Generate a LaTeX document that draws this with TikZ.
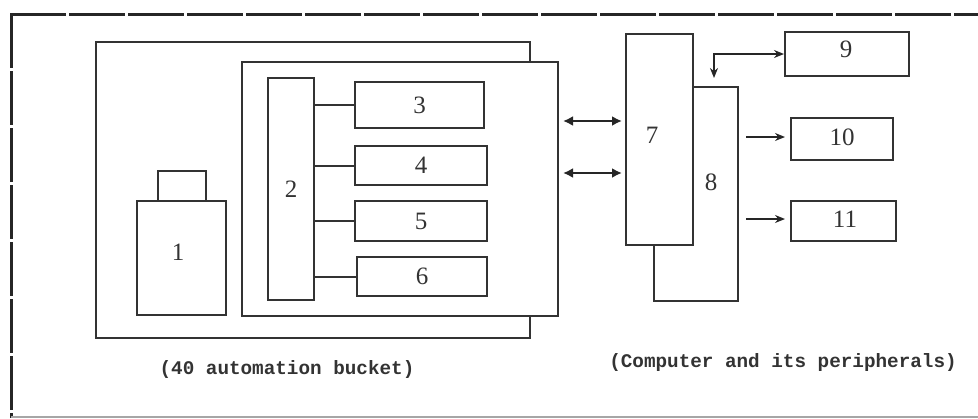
\documentclass[tikz,border=0pt]{standalone}
\usepackage{fontspec}
\setmainfont{Liberation Serif}
\newfontfamily\capfont{Liberation Mono}
\usetikzlibrary{arrows.meta}
\tikzset{
  box/.style={draw=black!80, line width=2pt, fill=white, rectangle, inner sep=0pt,
    font=\fontsize{25}{25}\selectfont, text=black!80},
  lbl/.style={font=\fontsize{25}{25}\selectfont, text=black!80, inner sep=0pt},
  link/.style={draw=black!80, line width=2pt},
  arr/.style={draw=black!85, line width=2pt, -{Stealth[length=10pt,width=8pt]}},
  dblarr/.style={draw=black!85, line width=2.6pt, {Latex[length=10pt,width=10pt]}-{Latex[length=10pt,width=10pt]}},
  captext/.style={font=\capfont\bfseries\fontsize{19.3}{20}\selectfont, text=black!80, inner sep=0pt},
  framerule/.style={draw=black!85, line width=3pt}
}
\begin{document}
\begin{tikzpicture}[x=1pt,y=-1pt]
\useasboundingbox (0,0) rectangle (978,418);
% frame
\draw[framerule, dash pattern=on 56pt off 3pt] (10,14) -- (978,14);
\draw[framerule, dash pattern=on 54pt off 3pt] (11,14) -- (11,418);
\draw[draw=black!35, line width=1.5pt] (11,417) -- (978,417);
% left group
\node[box, minimum width=434pt, minimum height=296pt] (nA) at (313,190) {};
\node[box, minimum width=316pt, minimum height=254pt] (nB) at (400,189) {};
\node[box, minimum width=46pt, minimum height=222pt] (n2) at (291,189) {2};
\node[box, minimum width=129pt, minimum height=46pt] (n3) at (419.5,105) {3};
\node[box, minimum width=132pt, minimum height=39pt] (n4) at (421,165.5) {4};
\node[box, minimum width=132pt, minimum height=40pt] (n5) at (421,221) {5};
\node[box, minimum width=130pt, minimum height=39pt] (n6) at (422,276.5) {6};
\draw[link] (n2.east |- n3.west) -- (n3.west);
\draw[link] (n2.east |- n4.west) -- (n4.west);
\draw[link] (n2.east |- n5.west) -- (n5.west);
\draw[link] (n2.east |- n6.west) -- (n6.west);
\node[box, minimum width=48pt, minimum height=30pt] (n1top) at (182,186) {};
\node[box, minimum width=89pt, minimum height=114pt] (n1) at (181.5,258) {};
\node[lbl] (l1) at (178,252) {1};
% right group
\node[box, minimum width=84pt, minimum height=214pt] (n8) at (696,194) {};
\node[lbl] (l8) at (711,182) {8};
\node[box, minimum width=67pt, minimum height=211pt] (n7) at (659.5,139.5) {};
\node[lbl] (l7) at (652,135) {7};
\node[box, minimum width=124pt, minimum height=44pt] (n9) at (847,54) {};
\node[lbl] (l9) at (846,49) {9};
\node[box, minimum width=102pt, minimum height=42pt] (n10) at (842,139) {};
\node[lbl] (l10) at (842,137) {10};
\node[box, minimum width=105pt, minimum height=40pt] (n11) at (843.5,221) {};
\node[lbl] (l11) at (845,219) {11};
% connectors
\coordinate (r1) at (0,121);
\coordinate (r2) at (0,173);
\draw[dblarr, shorten <=4pt, shorten >=3pt] (nB.east |- r1) -- (n7.west |- r1);
\draw[dblarr, shorten <=4pt, shorten >=3pt] (nB.east |- r2) -- (n7.west |- r2);
\coordinate (r10) at (0,137);
\coordinate (r11) at (0,219);
\draw[arr, shorten <=7pt, shorten >=5pt] (n8.east |- r10) -- (n10.west |- r10);
\draw[arr, shorten <=7pt, shorten >=5pt] (n8.east |- r11) -- (n11.west |- r11);
\coordinate (k8) at (714,87);
\draw[draw=black!85, line width=2pt, {Stealth[length=10pt,width=8pt]}-{Stealth[length=10pt,width=8pt]}, shorten <=9pt] (k8) |- (n9.west);
% captions
\node[captext] (c1) at (287,370) {(40 automation bucket)};
\node[captext] (c2) at (783,363) {(Computer and its peripherals)};
\end{tikzpicture}
\end{document}
